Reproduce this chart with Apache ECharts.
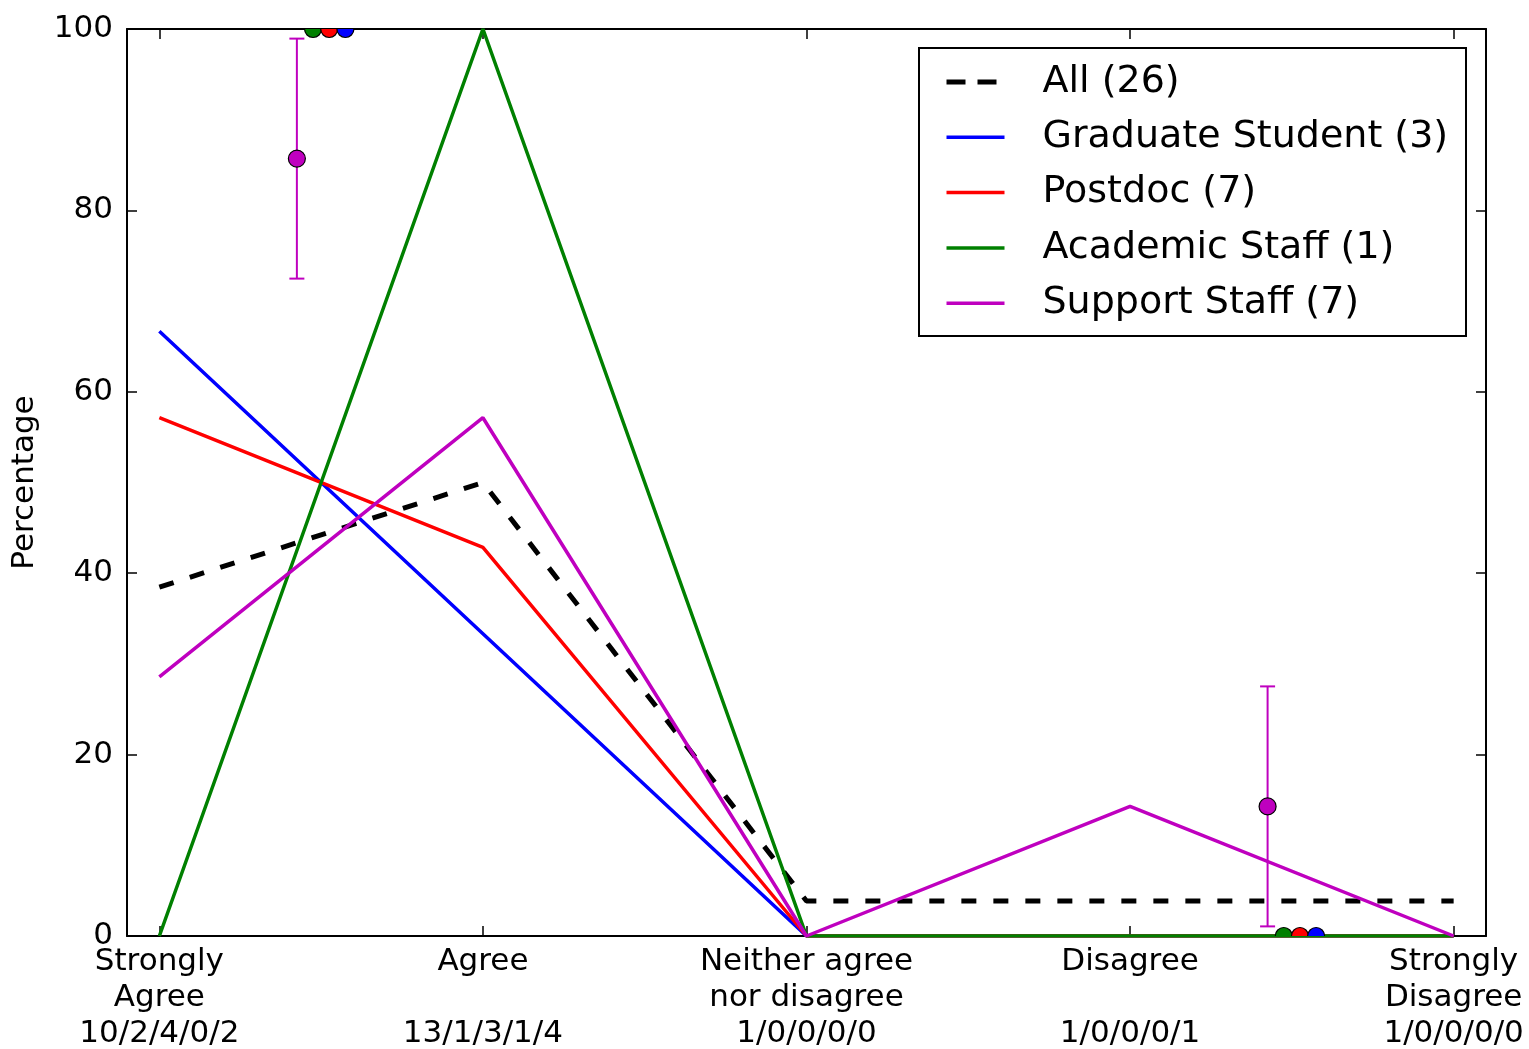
<!DOCTYPE html>
<html>
<head>
<meta charset="utf-8">
<script src="https://cdn.jsdelivr.net/npm/echarts@6/dist/echarts.min.js"></script>
<style>
  html, body { margin: 0; padding: 0; background: #fff; }
  #chart { width: 1529px; height: 1049px; }
</style>
</head>
<body>
<div id="chart"></div>
<script>
// ---- data ----
const xPositions = [0, 1, 2, 3, 4];
const categories = ['Strongly\nAgree', 'Agree\n', 'Neither agree\nnor disagree', 'Disagree\n', 'Strongly\nDisagree'];
const countLabels = ['10/2/4/0/2', '13/1/3/1/4', '1/0/0/0/0', '1/0/0/0/1', '1/0/0/0/0'];
const yTicks = [0, 20, 40, 60, 80, 100];

const seriesNames = ['All (26)', 'Graduate Student (3)', 'Postdoc (7)', 'Academic Staff (1)', 'Support Staff (7)'];
const allValues = [38.46, 50.0, 3.85, 3.85, 3.85];
const gradValues = [66.67, 33.33, 0, 0, 0];
const postdocValues = [57.14, 42.86, 0, 0, 0];
const academicValues = [0, 100, 0, 0, 0];
const supportValues = [28.57, 57.14, 0, 14.29, 0];

// combined agree / combined disagree summary points
const supportSummaryX = [0.425, 3.425];
const supportSummary = [85.71, 14.29];
const supportSummaryErr = [13.23, 13.23];
const academicSummaryX = [0.475, 3.475];
const academicSummary = [100, 0];
const postdocSummaryX = [0.525, 3.525];
const postdocSummary = [100, 0];
const gradSummaryX = [0.575, 3.575];
const gradSummary = [100, 0];

const colors = ['#000000', '#0000ff', '#ff0000', '#008000', '#bf00bf'];
const FONT = 'DejaVu Sans';

function pairs(xs, ys) { return xs.map((x, i) => [x, ys[i]]); }

const chart = echarts.init(document.getElementById('chart'), null, { renderer: 'canvas' });

const lineValues = [allValues, gradValues, postdocValues, academicValues, supportValues];
const lineSeries = lineValues.map((vals, i) => ({
  name: seriesNames[i],
  type: 'line',
  data: pairs(xPositions, vals),
  symbol: 'none',
  showSymbol: false,
  z: 2,
  lineStyle: {
    color: colors[i],
    width: i === 0 ? 5 : 3.5,
    type: i === 0 ? [15, 17] : 'solid',
    cap: 'butt'
  },
  itemStyle: { color: colors[i] },
  animation: false
}));

const errData = supportSummaryX.map((x, i) => [x, supportSummary[i] - supportSummaryErr[i], supportSummary[i] + supportSummaryErr[i]]);

const errSeries = {
  type: 'custom',
  name: 'err',
  z: 3,
  data: errData,
  encode: { x: 0, y: [1, 2] },
  renderItem: function (params, api) {
    const x = api.value(0);
    const lo = api.coord([x, api.value(1)]);
    const hi = api.coord([x, api.value(2)]);
    const hw = 7.5;
    const st = { stroke: '#bf00bf', lineWidth: 2 };
    return {
      type: 'group',
      children: [
        { type: 'line', shape: { x1: lo[0], y1: lo[1], x2: hi[0], y2: hi[1] }, style: st },
        { type: 'line', shape: { x1: lo[0] - hw, y1: lo[1], x2: lo[0] + hw, y2: lo[1] }, style: st },
        { type: 'line', shape: { x1: hi[0] - hw, y1: hi[1], x2: hi[0] + hw, y2: hi[1] }, style: st }
      ]
    };
  },
  animation: false
};

function pointSeries(xs, ys, color) {
  return {
    type: 'custom',
    data: pairs(xs, ys),
    encode: { x: 0, y: 1 },
    clip: true,
    z: 4,
    renderItem: function (params, api) {
      const p = api.coord([api.value(0), api.value(1)]);
      return {
        type: 'circle',
        shape: { cx: p[0], cy: p[1], r: 8.5 },
        style: { fill: color, stroke: '#000', lineWidth: 1.2 }
      };
    },
    animation: false
  };
}

const option = {
  backgroundColor: '#ffffff',
  animation: false,
  textStyle: { fontFamily: FONT },
  grid: { left: 127, right: 43, top: 29, bottom: 113, containLabel: false, outerBoundsMode: 'none' },
  xAxis: [
    {
      type: 'value', min: -0.1, max: 4.1, position: 'bottom',
      axisLine: { show: true, onZero: false, lineStyle: { color: '#000', width: 2 } },
      axisTick: { show: true, inside: true, length: 10, customValues: xPositions, lineStyle: { color: '#000', width: 1.5 } },
      axisLabel: {
        show: true, customValues: xPositions, margin: 8,
        fontFamily: FONT, fontSize: 31, color: '#000', lineHeight: 36, align: 'center',
        formatter: function (v) {
          const i = xPositions.indexOf(Math.round(v));
          return i >= 0 ? categories[i] + '\n' + countLabels[i] : '';
        }
      },
      splitLine: { show: false }
    },
    {
      type: 'value', min: -0.1, max: 4.1, position: 'top',
      axisLine: { show: true, onZero: false, lineStyle: { color: '#000', width: 2 } },
      axisTick: { show: true, inside: true, length: 10, customValues: xPositions, lineStyle: { color: '#000', width: 1.5 } },
      axisLabel: { show: false, customValues: xPositions },
      splitLine: { show: false }
    }
  ],
  yAxis: [
    {
      type: 'value', min: 0, max: 100, interval: 20, position: 'left',
      name: 'Percentage', nameLocation: 'middle', nameGap: 87,
      nameTextStyle: { fontFamily: FONT, fontSize: 31, color: '#000' },
      axisLine: { show: true, onZero: false, lineStyle: { color: '#000', width: 2 } },
      axisTick: { show: true, inside: true, length: 10, lineStyle: { color: '#000', width: 1.5 } },
      axisLabel: { show: true, margin: 14, fontFamily: FONT, fontSize: 31, color: '#000',
        formatter: function (v) { return yTicks.indexOf(v) >= 0 ? String(v) : ''; } },
      splitLine: { show: false }
    },
    {
      type: 'value', min: 0, max: 100, interval: 20, position: 'right',
      axisLine: { show: true, onZero: false, lineStyle: { color: '#000', width: 2 } },
      axisTick: { show: true, inside: true, length: 10, lineStyle: { color: '#000', width: 1.5 } },
      axisLabel: { show: false },
      splitLine: { show: false }
    }
  ],
  graphic: [
    {
      type: 'rect', z: 50, silent: true,
      shape: { x: 919, y: 48, width: 547, height: 288 },
      style: { fill: '#ffffff', stroke: '#000000', lineWidth: 2 }
    }
  ],
  legend: {
    show: true,
    orient: 'vertical',
    left: 944, top: 62,
    padding: 0,
    z: 60,
    itemWidth: 58, itemHeight: 20, itemGap: 15.3,
    selectedMode: false,
    textStyle: { fontFamily: FONT, fontSize: 38, color: '#000', lineHeight: 40, padding: [0, 0, 0, 33] },
    data: seriesNames.map((n, i) => ({
      name: n,
      lineStyle: { color: colors[i], width: i === 0 ? 5 : 3.5, type: i === 0 ? [19, 12] : 'solid', cap: 'butt' },
      itemStyle: { opacity: 0 }
    }))
  },
  series: [
    ...lineSeries,
    errSeries,
    pointSeries(supportSummaryX, supportSummary, '#bf00bf'),
    pointSeries(academicSummaryX, academicSummary, '#008000'),
    pointSeries(postdocSummaryX, postdocSummary, '#ff0000'),
    pointSeries(gradSummaryX, gradSummary, '#0000ff')
  ]
};

chart.setOption(option);
</script>
</body>
</html>
